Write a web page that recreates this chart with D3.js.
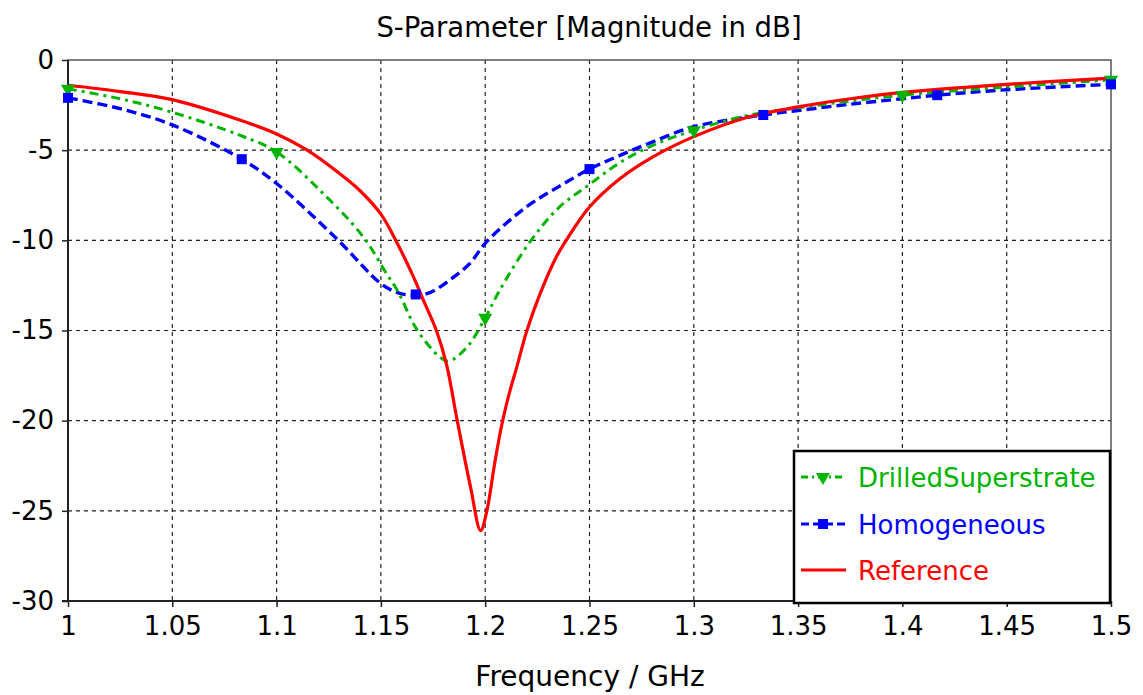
<!DOCTYPE html>
<html><head><meta charset="utf-8">
<script src="https://cdn.jsdelivr.net/npm/d3@7"></script>
<style>body{margin:0;background:#fff}svg{display:block}text{font-family:"DejaVu Sans",sans-serif}</style>
</head><body><svg id="c" width="1143" height="695"></svg>
<script>
// ---- data ----
const xTicks = [1, 1.05, 1.1, 1.15, 1.2, 1.25, 1.3, 1.35, 1.4, 1.45, 1.5];
const xTickLabels = ["1","1.05","1.1","1.15","1.2","1.25","1.3","1.35","1.4","1.45","1.5"];
const yTicks = [0, -5, -10, -15, -20, -25, -30];
const yTickLabels = ["0","-5","-10","-15","-20","-25","-30"];

const drilledFreq = [1.0,1.025,1.05,1.0823,1.1,1.1223,1.1415,1.1527,1.158,1.1675,1.1786,1.1826,1.1914,1.2,1.2068,1.222,1.2356,1.25,1.2644,1.28,1.3,1.325,1.35,1.4,1.45,1.5];
const drilledDb   = [-1.6,-2.15,-2.9,-4.17,-5.1,-7.4,-9.8,-11.85,-12.8,-15,-16.5,-16.7,-15.9,-14.3,-12.8,-10,-8.15,-6.9,-5.7,-4.75,-3.9,-3.1,-2.65,-1.95,-1.5,-1.1];
const drilledMarkFreq = [1.0,1.1,1.2,1.3,1.4,1.5];
const drilledMarkDb   = [-1.6,-5.1,-14.3,-3.9,-1.95,-1.1];

const homoFreq = [1.0,1.025,1.05,1.0833,1.1,1.1287,1.15,1.158,1.1655,1.1735,1.183,1.1925,1.2005,1.2197,1.2356,1.25,1.2644,1.28,1.3,1.3333,1.35,1.375,1.4,1.4167,1.45,1.5];
const homoDb   = [-2.1,-2.7,-3.6,-5.5,-6.85,-9.9,-12.4,-12.9,-13.05,-12.9,-12.2,-11.3,-10.1,-8.15,-7.0,-6.05,-5.3,-4.55,-3.7,-3.05,-2.8,-2.45,-2.15,-1.95,-1.65,-1.35];
const homoMarkFreq = [1.0,1.0833,1.1667,1.25,1.3333,1.4167,1.5];
const homoMarkDb   = [-2.1,-5.5,-13.0,-6.05,-3.05,-1.95,-1.35];

const refFreq = [1.0,1.025,1.05,1.0823,1.1,1.1147,1.1302,1.14,1.15,1.158,1.1655,1.1703,1.1766,1.1815,1.1866,1.193,1.1978,1.2008,1.2045,1.208,1.2115,1.2152,1.22,1.2262,1.2342,1.2422,1.25,1.2644,1.28,1.3,1.325,1.35,1.375,1.4,1.45,1.5];
const refDb   = [-1.4,-1.75,-2.2,-3.33,-4.1,-5.0,-6.3,-7.25,-8.55,-10.2,-12.0,-13.3,-15,-16.9,-20,-23.7,-26.1,-25,-22.4,-20.2,-18.5,-17.0,-15.0,-13.0,-10.9,-9.4,-8.15,-6.6,-5.4,-4.25,-3.2,-2.6,-2.15,-1.8,-1.35,-1.0];

const seriesNames = ["DrilledSuperstrate","Homogeneous","Reference"];
const seriesColors = ["#00b400","#0000ff","#ff0000"];

// ---- chart ----
const W = 1143, H = 695;
const m = {l:68, r:32, t:60, b:94};
const svg = d3.select("#c");
const x = d3.scaleLinear().domain([1,1.5]).range([m.l, W-m.r]);
const y = d3.scaleLinear().domain([-30,0]).range([H-m.b, m.t]);

// grid
const g = svg.append("g");
g.selectAll(".vg").data(xTicks.slice(1,-1)).join("line")
  .attr("x1",d=>x(d)).attr("x2",d=>x(d)).attr("y1",y(0)).attr("y2",y(-30))
  .attr("stroke","#222").attr("stroke-width",1.2).attr("stroke-dasharray","4,4");
g.selectAll(".hg").data(yTicks.slice(1,-1)).join("line")
  .attr("y1",d=>y(d)).attr("y2",d=>y(d)).attr("x1",x(1)).attr("x2",x(1.5))
  .attr("stroke","#222").attr("stroke-width",1.2).attr("stroke-dasharray","4,4");

// frame
svg.append("rect").attr("x",x(1)).attr("y",y(0)).attr("width",x(1.5)-x(1)).attr("height",y(-30)-y(0))
  .attr("fill","none").attr("stroke","#555").attr("stroke-width",1.5);
svg.append("line").attr("x1",x(1)).attr("x2",x(1)).attr("y1",y(0)).attr("y2",y(-30)).attr("stroke","#222").attr("stroke-width",2);
svg.append("line").attr("x1",x(1)-6).attr("x2",x(1.5)).attr("y1",y(-30)).attr("y2",y(-30)).attr("stroke","#222").attr("stroke-width",2);

// axes
const xAxis = d3.axisBottom(x).tickValues(xTicks).tickFormat((d,i)=>xTickLabels[i]).tickSize(6).tickPadding(10);
const xa = svg.append("g").attr("transform",`translate(0,${y(-30)})`).call(xAxis);
xa.select(".domain").remove();
xa.selectAll("line").attr("stroke","#222").attr("stroke-width",1.5);
xa.selectAll("text").attr("fill","#000").style("font-size","26px").style("font-family","DejaVu Sans");

const yAxis = d3.axisLeft(y).tickValues(yTicks).tickFormat((d,i)=>yTickLabels[i]).tickSize(6).tickPadding(8);
const ya = svg.append("g").attr("transform",`translate(${x(1)},0)`).call(yAxis);
ya.select(".domain").remove();
ya.selectAll("line").attr("stroke","#222").attr("stroke-width",1.5);
ya.selectAll("text").attr("fill","#000").style("font-size","26px").style("font-family","DejaVu Sans");

// title and label
svg.append("text").attr("x",589).attr("y",37).attr("text-anchor","middle").style("font-size","27.5px").text("S-Parameter [Magnitude in dB]");
svg.append("text").attr("x",590).attr("y",686).attr("text-anchor","middle").style("font-size","28px").text("Frequency / GHz");

// lines
const line = d3.line().x(d=>x(d[0])).y(d=>y(d[1])).curve(d3.curveCatmullRom.alpha(0.5));
svg.append("clipPath").attr("id","pc").append("rect").attr("x",x(1)-8).attr("y",y(0)-8).attr("width",x(1.5)-x(1)+16).attr("height",y(-30)-y(0)+8);
const pg = svg.append("g").attr("clip-path","url(#pc)");

const drilled = d3.zip(drilledFreq, drilledDb);
const homo = d3.zip(homoFreq, homoDb);
const ref = d3.zip(refFreq, refDb);

pg.append("path").datum(homo).attr("d",line).attr("fill","none").attr("stroke",seriesColors[1]).attr("stroke-width",3.4).attr("stroke-dasharray","10,5");
pg.append("path").datum(drilled).attr("d",line).attr("fill","none").attr("stroke",seriesColors[0]).attr("stroke-width",3).attr("stroke-dasharray","9,5,3,5");
pg.append("path").datum(ref).attr("d",line).attr("fill","none").attr("stroke",seriesColors[2]).attr("stroke-width",3.2);

const tri = d3.symbol().type(d3.symbolTriangle).size(85);
pg.selectAll(".gm").data(d3.zip(drilledMarkFreq, drilledMarkDb)).join("path")
  .attr("d",tri).attr("transform",d=>`translate(${x(d[0])},${y(d[1])}) rotate(180)`).attr("fill",seriesColors[0]);
pg.selectAll(".bm").data(d3.zip(homoMarkFreq, homoMarkDb)).join("rect")
  .attr("x",d=>x(d[0])-5).attr("y",d=>y(d[1])-5).attr("width",10).attr("height",10).attr("fill",seriesColors[1]);

// legend
const lg = svg.append("g");
lg.append("rect").attr("x",794).attr("y",451).attr("width",316).attr("height",152).attr("fill","#fff").attr("stroke","#000").attr("stroke-width",2.5);
const ly = [477,524,570];
[0,1,2].forEach(i=>{
  const yy = ly[i];
  const ln = lg.append("line").attr("x1",801).attr("x2",846).attr("y1",yy).attr("y2",yy).attr("stroke",seriesColors[i]).attr("stroke-width",3);
  if(i===0){ ln.attr("stroke-dasharray","7,4,2,4"); lg.append("path").attr("d",tri).attr("transform",`translate(823,${yy}) rotate(180)`).attr("fill",seriesColors[0]); }
  if(i===1){ ln.attr("stroke-dasharray","8,4"); lg.append("rect").attr("x",818).attr("y",yy-5).attr("width",10).attr("height",10).attr("fill",seriesColors[1]); }
  lg.append("text").attr("x",858).attr("y",yy+10).attr("fill",seriesColors[i]).style("font-size","26px").text(seriesNames[i]);
});
</script></body></html>
